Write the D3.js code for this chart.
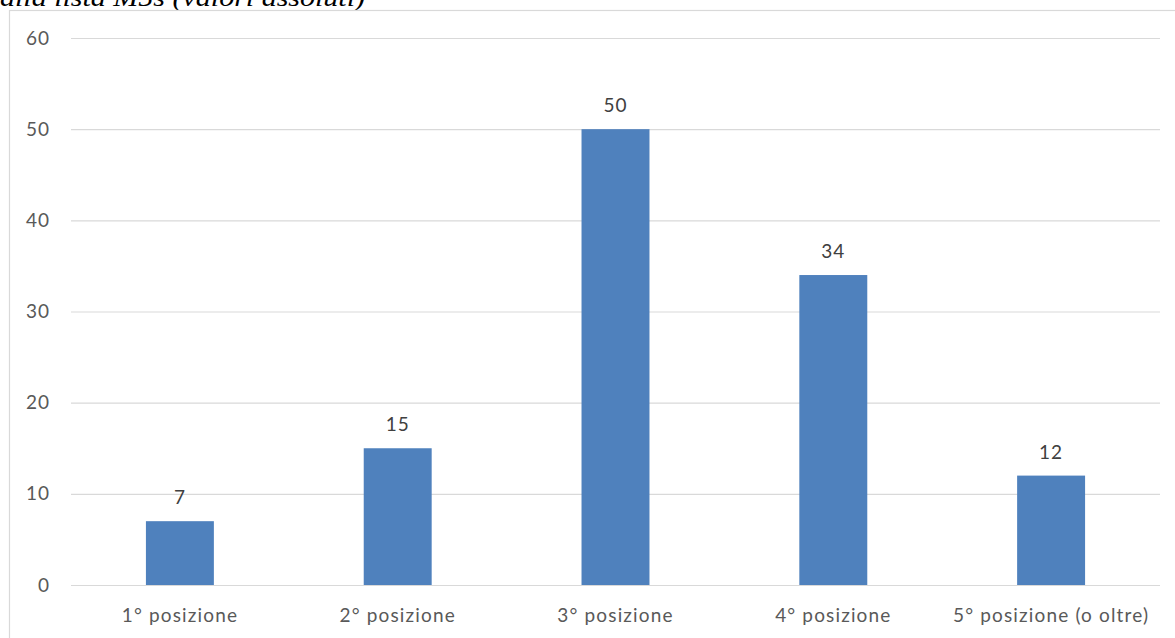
<!DOCTYPE html>
<html>
<head>
<meta charset="utf-8">
<script src="https://cdn.jsdelivr.net/npm/d3@7"></script>
<style>
  html, body { margin: 0; padding: 0; background: #fff; }
  svg { display: block; }
</style>
</head>
<body>
<svg id="chart" width="1175" height="638"></svg>
<script>
// Position on the list and number of candidates in each
const categories = ["1° posizione", "2° posizione", "3° posizione", "4° posizione", "5° posizione (o oltre)"];
const values = [7, 15, 50, 34, 12];
const yTicks = [0, 10, 20, 30, 40, 50, 60];
const captionText = "alla lista M5s (valori assoluti)";

const svg = d3.select("#chart");
const W = 1175, H = 638;
const plot = { left: 71, right: 1160, top: 38, bottom: 585 };
const labelFont = "Lato, Carlito, Open Sans, sans-serif";

// Caption line, partly above the visible area
svg.append("text")
  .attr("x", 0).attr("y", 6)
  .attr("font-family", "Liberation Serif, Times New Roman, serif")
  .attr("font-style", "italic")
  .attr("font-size", 25)
  .attr("textLength", 365)
  .attr("lengthAdjust", "spacingAndGlyphs")
  .attr("fill", "#000")
  .text(captionText);

// Chart area frame
svg.append("rect")
  .attr("x", 9.5).attr("y", 10.5)
  .attr("width", W - 9 + 5).attr("height", H)
  .attr("fill", "#fff")
  .attr("stroke", "#d9d9d9").attr("stroke-width", 1.2);

const x = d3.scaleBand()
  .domain(categories)
  .range([plot.left, plot.right])
  .paddingInner(0.688)
  .paddingOuter(0.344);

const y = d3.scaleLinear()
  .domain([0, 60])
  .range([plot.bottom, plot.top]);

// Horizontal gridlines with value labels
const yAxis = d3.axisLeft(y)
  .tickValues(yTicks)
  .tickSize(-(plot.right - plot.left))
  .tickPadding(21)
  .tickFormat(d3.format("d"));

const gy = svg.append("g")
  .attr("transform", `translate(${plot.left},0)`)
  .call(yAxis);
gy.select(".domain").remove();
gy.selectAll(".tick line").attr("stroke", "#d9d9d9").attr("stroke-width", 1.2);
gy.selectAll(".tick text")
  .attr("fill", "#595959")
  .attr("font-family", labelFont)
  .attr("font-size", 19)
  .attr("letter-spacing", 1);

// Category labels under the baseline
const xAxis = d3.axisBottom(x).tickSize(0).tickPadding(24);
const gx = svg.append("g")
  .attr("transform", `translate(0,${plot.bottom})`)
  .call(xAxis);
gx.select(".domain").remove();
gx.selectAll(".tick text")
  .attr("fill", "#595959")
  .attr("font-family", labelFont)
  .attr("font-size", 19)
  .attr("letter-spacing", 1.15);

// Bars
svg.append("g").selectAll("rect")
  .data(values)
  .join("rect")
  .attr("x", (d, i) => x(categories[i]))
  .attr("y", d => y(d))
  .attr("width", x.bandwidth())
  .attr("height", d => y(0) - y(d))
  .attr("fill", "#4f81bd");

// Value labels above bars
svg.append("g").selectAll("text")
  .data(values)
  .join("text")
  .attr("x", (d, i) => x(categories[i]) + x.bandwidth() / 2)
  .attr("y", d => y(d) - 17)
  .attr("text-anchor", "middle")
  .attr("fill", "#404040")
  .attr("font-family", labelFont)
  .attr("font-size", 19)
  .attr("letter-spacing", 1)
  .text(d => d);
</script>
</body>
</html>
